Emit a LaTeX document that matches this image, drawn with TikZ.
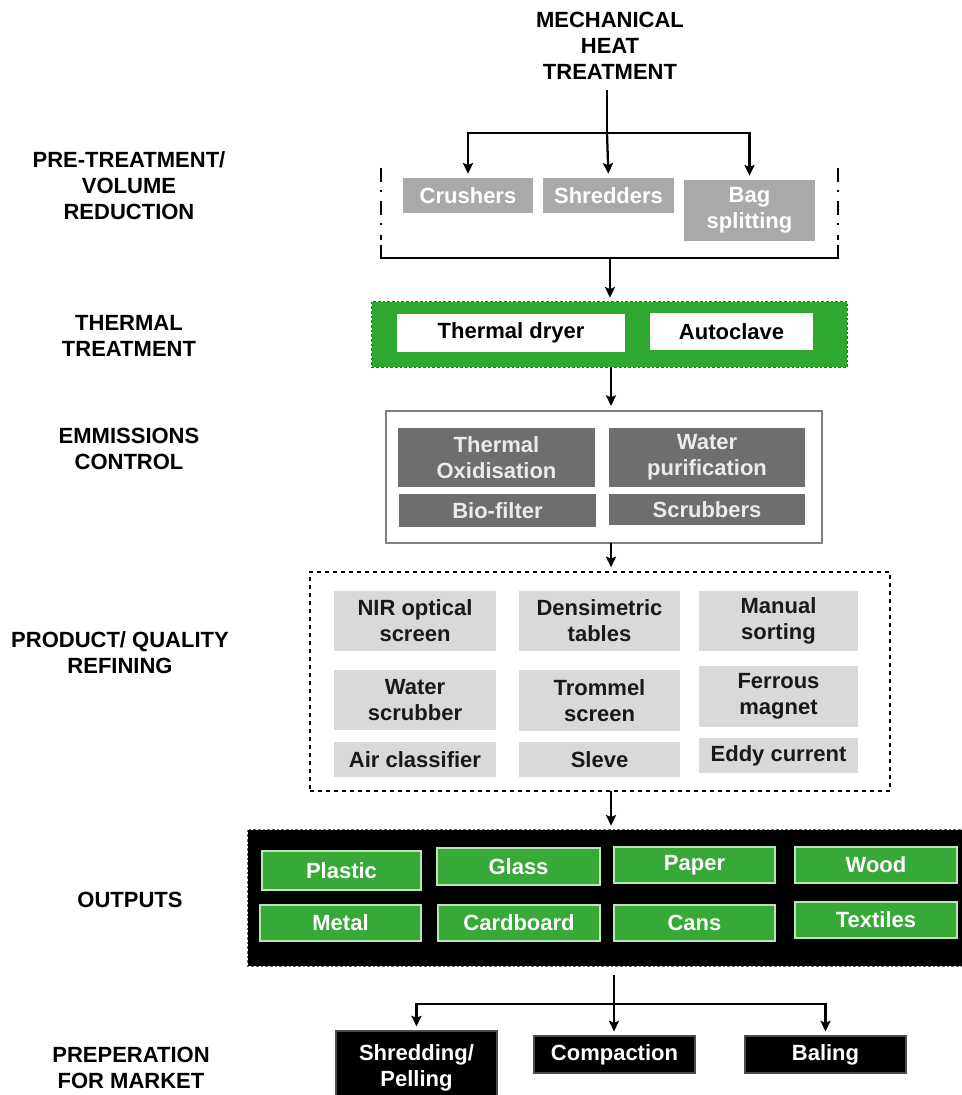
\documentclass[tikz,border=0pt]{standalone}
\usepackage{fontspec}
\setmainfont{Liberation Sans}
\usetikzlibrary{arrows.meta}
\definecolor{gboxc}{HTML}{A9A9A9}
\definecolor{emc}{HTML}{6E6E6E}
\definecolor{refc}{HTML}{D9D9D9}
\definecolor{thg}{HTML}{2EA82E}
\definecolor{outg}{HTML}{36A936}
\definecolor{outb}{HTML}{B8E6B8}
\newcommand\bx[7]{\node[#1, minimum width={(#5-#3)*0.75pt}, minimum height={(#6-#4)*0.75pt}] (#2) at ({(#3+#5)/2},{(#4+#6)/2}) {#7};}
\begin{document}
\begin{tikzpicture}[x=0.75pt,y=-0.75pt,
  every node/.style={font=\fontsize{16.5}{19.5}\selectfont\bfseries, inner sep=0pt, align=center},
  lbl/.style={text=black},
  grybox/.style={fill=gboxc, text=white},
  wbox/.style={fill=white, text=black},
  embox/.style={fill=emc, text=white!92!black},
  refbox/.style={fill=refc, text=black!90},
  outbox/.style={fill=outg, draw=outb, line width=1.2pt, text=white},
  mktbox/.style={fill=black, draw=black!70, line width=0.8pt, text=white},
  arr/.style={line width=1.7pt, -{Stealth[length=8pt,width=7.5pt,inset=1.5pt]}, shorten >=3pt},
  ln/.style={line width=1.7pt},
  dashdot/.style={line width=2.2pt, dash pattern=on 10.5pt off 6pt on 1.5pt off 7pt}]
\useasboundingbox (0,0) rectangle (962,1095);
\fill[white] (0,0) rectangle (962,1095);

% left labels
\node[lbl] (l1) at (129,186) {PRE-TREATMENT/\\VOLUME\\REDUCTION};
\node[lbl] (l2) at (129,336) {THERMAL\\TREATMENT};
\node[lbl] (l3) at (129,449) {EMMISSIONS\\CONTROL};
\node[lbl] (l4) at (120,653) {PRODUCT/ QUALITY\\REFINING};
\node[lbl] (l5) at (130,900) {OUTPUTS};
\node[lbl] (l6) at (131,1068) {PREPERATION\\FOR MARKET};

% title
\node[lbl] (title) at (610,46) {MECHANICAL\\HEAT\\TREATMENT};

% pre-treatment
\bx{grybox}{crush}{403}{178}{533}{213}{Crushers}
\bx{grybox}{shred}{543}{178}{674}{213}{Shredders}
\bx{grybox}{bag}{684}{180}{815}{241}{Bag\\splitting}
\coordinate (t0) at (607,90);
\coordinate (j1) at (607,133);
\draw[ln] (t0) -- (j1);
\draw[arr] (j1) -| (crush.north);
\draw[arr] (j1) -- (shred.north);
\draw[arr] (j1) -| (bag.north);
\draw[dashdot] (381,168) -- (381,240);
\draw[dashdot] (838,168) -- (838,240);
\coordinate (bl) at (381,245);
\coordinate (br) at (838,245);
\coordinate (b0) at (610,258);
\draw[ln, line width=2pt] (bl) |- (b0) -| (br);

% thermal
\bx{}{therm}{372}{302}{847}{367}{}
\fill[thg] (therm.north west) rectangle (therm.south east);
\draw[thg!70!black, line width=1pt, dash pattern=on 2pt off 1.5pt] (therm.north west) rectangle (therm.south east);
\bx{wbox}{dryer}{397}{314}{625}{352}{Thermal dryer}
\bx{wbox}{auto}{650}{313}{813}{350}{Autoclave}
\draw[arr] (b0) -- (b0 |- therm.north);

% emissions
\bx{draw=black!50, line width=1.5pt}{emis}{386}{411}{822}{543}{}
\bx{embox}{tox}{398}{428}{595}{487}{Thermal\\Oxidisation}
\bx{embox}{wp}{609}{428}{805}{487}{Water\\purification}
\bx{embox}{bio}{399}{494}{596}{527}{Bio-filter}
\bx{embox}{scr}{609}{494}{805}{525}{Scrubbers}
\coordinate (e0) at (611,367);
\draw[arr] (e0) -- (e0 |- emis.north);

% refining
\bx{draw=black, line width=1pt, dashed}{refi}{310}{572}{890}{791}{}
\bx{refbox}{nir}{334}{591}{496}{651}{NIR optical\\screen}
\bx{refbox}{dens}{519}{591}{680}{651}{Densimetric\\tables}
\bx{refbox}{man}{699}{591}{858}{651}{Manual\\sorting}
\bx{refbox}{wsc}{334}{670}{496}{730}{Water\\scrubber}
\bx{refbox}{tro}{519}{670}{680}{731}{Trommel\\screen}
\bx{refbox}{fer}{699}{666}{858}{727}{Ferrous\\magnet}
\bx{refbox}{air}{334}{742}{496}{777}{Air classifier}
\bx{refbox}{sle}{519}{742}{680}{777}{Sleve}
\bx{refbox}{edd}{699}{738}{858}{773}{Eddy current}
\coordinate (r0) at (611,543);
\draw[arr] (r0) -- (r0 |- refi.north);

% outputs
\bx{}{outs}{248}{830}{962}{966}{}
\fill[black] (outs.north west) rectangle (outs.south east);
\draw[black!60, line width=1pt, dash pattern=on 2pt off 1.5pt] (outs.north west) rectangle (outs.south east);
\bx{outbox}{pla}{262}{851}{421}{890}{Plastic}
\bx{outbox}{gla}{437}{848}{600}{885}{Glass}
\bx{outbox}{pap}{614}{847}{775}{883}{Paper}
\bx{outbox}{woo}{795}{847}{957}{883}{Wood}
\bx{outbox}{met}{260}{905}{421}{941}{Metal}
\bx{outbox}{car}{438}{905}{600}{941}{Cardboard}
\bx{outbox}{can}{614}{905}{775}{941}{Cans}
\bx{outbox}{tex}{795}{902}{957}{938}{Textiles}
\coordinate (o0) at (611,791);
\draw[arr] (o0) -- (o0 |- outs.north);

% market
\bx{mktbox}{shp}{336}{1031}{497}{1105}{Shredding/\\Pelling}
\bx{mktbox}{com}{534}{1036}{695}{1073}{Compaction}
\bx{mktbox}{bal}{745}{1036}{906}{1073}{Baling}
\coordinate (m0) at (614,975);
\coordinate (m1) at (614,1004);
\draw[ln] (m0) -- (m1);
\draw[arr] (m1) -| (shp.north);
\draw[arr] (m1) -- (m1 |- com.north);
\draw[arr] (m1) -| (bal.north);
\end{tikzpicture}
\end{document}
